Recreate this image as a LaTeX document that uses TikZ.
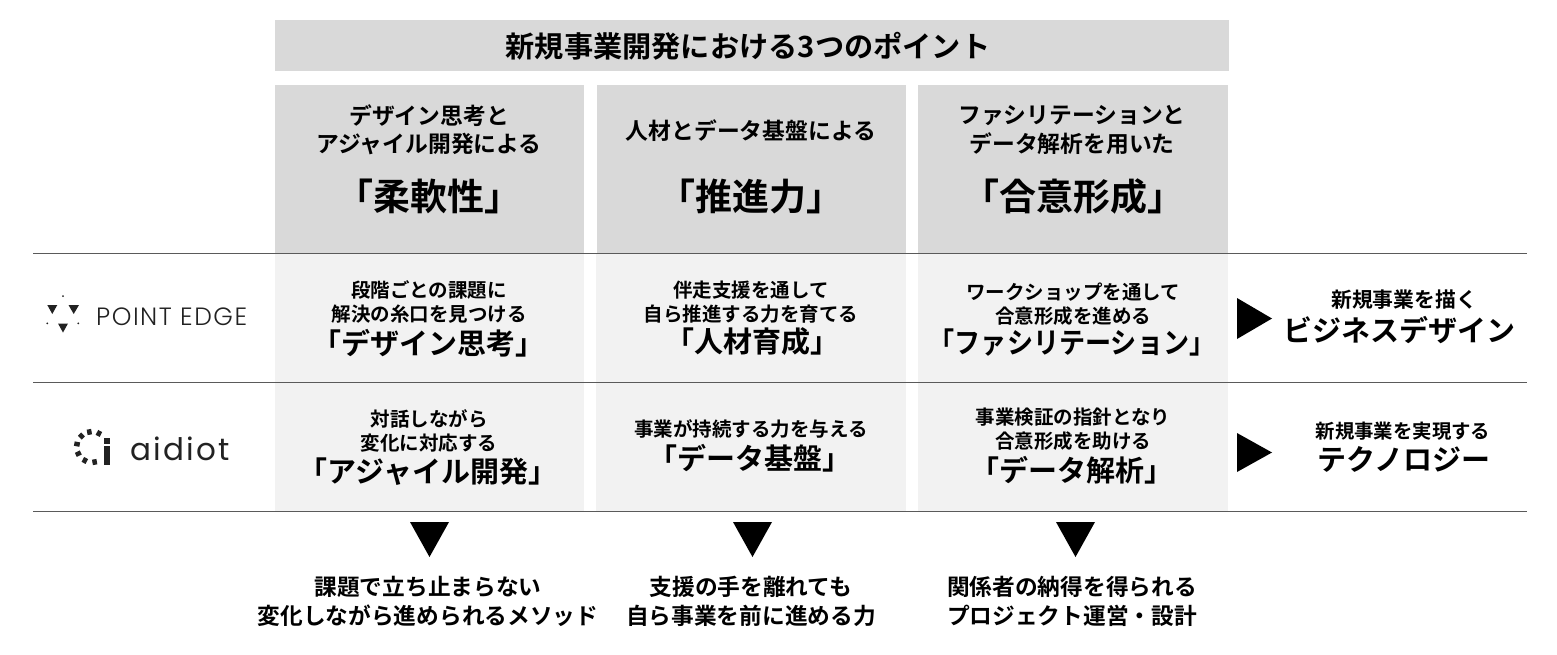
\documentclass[tikz,border=0pt]{standalone}
\usepackage{fontspec}
\setmainfont{Noto Sans CJK JP}[BoldFont={* Bold}]
\newfontfamily\latin{Poppins Light}[LetterSpace=6]
\newfontfamily\latinb{Poppins}[LetterSpace=7]
\definecolor{darkbox}{HTML}{D9D9D9}
\definecolor{lightbox}{HTML}{F2F2F2}
\definecolor{rulecol}{HTML}{5A5A5A}
\definecolor{logocol}{HTML}{222222}
\tikzset{
  x=1pt,y=-1pt,
  txt/.style={inner sep=0pt,outer sep=0pt,align=center,font=\bfseries,text=black},
  titletxt/.style={txt,font=\fontsize{29.2}{32}\bfseries\selectfont},
  headtxt/.style={txt,font=\fontsize{22.8}{28.5}\bfseries\selectfont},
  bigtxt/.style={txt,font=\fontsize{37}{42}\bfseries\selectfont},
  desctxt/.style={txt,font=\fontsize{19.5}{24}\bfseries\selectfont},
  keytxt/.style={txt,font=\fontsize{29}{33}\bfseries\selectfont},
  sidetxt/.style={txt,font=\fontsize{20.8}{24}\bfseries\selectfont},
  sidetxtb/.style={txt,font=\fontsize{19.4}{24}\bfseries\selectfont},
  sidebig/.style={txt,font=\fontsize{29}{33}\bfseries\selectfont},
  resulttxt/.style={txt,font=\fontsize{22.7}{29}\bfseries\selectfont},
  darkfill/.style={fill=darkbox,draw=none},
  lightfill/.style={fill=lightbox,draw=none},
  hline/.style={draw=rulecol,line width=1pt},
  tri/.style={fill=black,draw=none},
  logomark/.style={fill=logocol,draw=none},
}
\begin{document}
\begin{tikzpicture}
\useasboundingbox (0,0) rectangle (1557,654);
% boxes
\fill[darkfill] (275,20) rectangle (1229,71);
\foreach \a/\b in {275/584,597/906,918/1228}{
  \fill[darkfill] (\a,85) rectangle (\b,254);
}
\foreach \a/\b in {275/584,596/906,918/1228}{
  \fill[lightfill] (\a,254) rectangle (\b,511);
}
% rules
\coordinate (l1a) at (33,253); \coordinate (l1b) at (1527,253);
\coordinate (l2a) at (33,382); \coordinate (l2b) at (1527,382);
\coordinate (l3a) at (33,511); \coordinate (l3b) at (1527,511);
\draw[hline] (l1a) -- (l1b);
\draw[hline] (l2a) -- (l2b);
\draw[hline] (l3a) -- (l3b);
% title
\node[titletxt] (t) at (748,46) {新規事業開発における3つのポイント};
% headers
\node[headtxt] (h1) at (429,130) {デザイン思考と\\アジャイル開発による};
\node[headtxt] (h2) at (751,131) {人材とデータ基盤による};
\node[headtxt] (h3) at (1072,130) {ファシリテーションと\\データ解析を用いた};
\node[bigtxt] (b1) at (429,196.5) {「柔軟性」};
\node[bigtxt] (b2) at (751,196.5) {「推進力」};
\node[bigtxt] (b3) at (1073,196.5) {「合意形成」};
% row 1
\node[desctxt] (d11) at (429,302) {段階ごとの課題に\\解決の糸口を見つける};
\node[desctxt] (d12) at (751,302) {伴走支援を通して\\自ら推進する力を育てる};
\node[desctxt] (d13) at (1073,304) {ワークショップを通して\\合意形成を進める};
\node[keytxt] (k11) at (428,343) {「デザイン思考」};
\node[keytxt] (k12) at (752,342) {「人材育成」};
\node[keytxt] (k13) at (1072,343) {\scalebox{0.9}[1]{「ファシリテーション」}};
% row 2
\node[desctxt] (d21) at (429,431) {対話しながら\\変化に対応する};
\node[desctxt] (d22) at (751,429) {事業が持続する力を与える};
\node[desctxt] (d23) at (1073,429) {事業検証の指針となり\\合意形成を助ける};
\node[keytxt] (k21) at (428,472) {「アジャイル開発」};
\node[keytxt] (k22) at (750,458) {「データ基盤」};
\node[keytxt] (k23) at (1072,470) {「データ解析」};
% side
\node[sidetxt] (s1) at (1404,300) {新規事業を描く};
\node[sidebig] (s1b) at (1399,330) {ビジネスデザイン};
\node[sidetxtb] (s2) at (1403,431) {新規事業を実現する};
\node[sidebig] (s2b) at (1404,459) {テクノロジー};
% result
\node[resulttxt] (r1) at (428,601) {課題で立ち止まらない\\変化しながら進められるメソッド};
\node[resulttxt] (r2) at (751,601) {支援の手を離れても\\自ら事業を前に進める力};
\node[resulttxt] (r3) at (1072,601) {関係者の納得を得られる\\プロジェクト運営・設計};
% triangles
\fill[tri] (1237,298) -- (1272,318.5) -- (1237,339) -- cycle;
\fill[tri] (1237,433) -- (1272,452.5) -- (1237,472) -- cycle;
\foreach \c in {429.5,752.5,1075.5}{
  \fill[tri] ({\c-19.5},522) -- ({\c+19.5},522) -- (\c,557) -- cycle;
}
% POINT EDGE logo
\fill[logomark] (47.3,305) -- (57.3,305) -- (52.3,314) -- cycle;
\fill[logomark] (68.5,305) -- (79,305) -- (73.7,314) -- cycle;
\fill[logomark] (58,323.5) -- (68,323.5) -- (63,332.5) -- cycle;
\fill[logomark] (63,296) circle (1);
\fill[logomark] (47.3,323.3) circle (1);
\fill[logomark] (78.3,323.3) circle (1);
\node[inner sep=0pt,anchor=base west,font=\latin\fontsize{25}{28}\selectfont,text=logocol] (pe) at (96,325) {POINT EDGE};
% aidiot logo
\foreach \a in {80,118,154,191,226,260,297}{
  \draw[logocol,line width=4.5pt] ({92+12.5*cos(\a)},{447+12.5*sin(\a)}) -- ({92+18*cos(\a)},{447+18*sin(\a)});
}
\fill[logomark] (104.3,438) rectangle (110.3,443.7);
\fill[logomark] (104.3,446) rectangle (110.3,465);
\node[inner sep=0pt,anchor=base west,font=\latinb\fontsize{31}{34}\selectfont,text=logocol] (ai) at (130,460) {aidiot};
\end{tikzpicture}
\end{document}
